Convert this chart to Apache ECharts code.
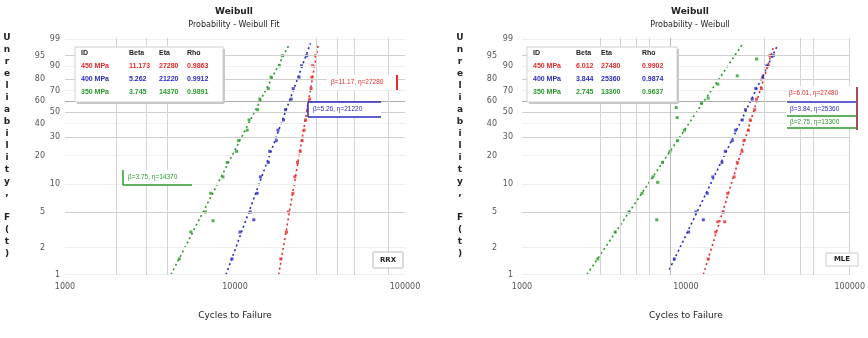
<!DOCTYPE html>
<html>
<head>
<meta charset="utf-8">
<script src="https://cdn.jsdelivr.net/npm/echarts@6/dist/echarts.min.js"></script>
<style>
  html, body { margin: 0; padding: 0; background: #fff; }
  #chart { width: 868px; height: 338px; }
</style>
</head>
<body>
<div id="chart"></div>
<script>
// --- data ---
const setNames = ['450 MPa', '400 MPa', '350 MPa']
const colors = ['#e62a2a', '#2a2ac2', '#2a9a2a']
const probTicks = [99, 95, 90, 80, 70, 60, 50, 40, 30, 20, 10, 5, 2, 1]
const outerTicks = [95, 80, 60, 40, 20, 5, 2]
const darkGrid = [95, 80, 50, 30, 5]
const leftVLines = [2000, 3000, 4000, 30000, 40000, 50000, 80000]
const rightVLines = [3000, 4000, 5000, 6000, 8000, 30000, 50000, 60000, 100000]

// fit lines: [cycles, F%] end points
const leftFitRed = [[18070, 1], [30970, 98.4]]
const leftFitBlue = [[8850, 1], [27800, 98.4]]
const leftFitGreen = [[4200, 1], [21000, 98.4]]
const rightFitRed = [[12780, 1], [34080, 97.4]]
const rightFitBlue = [[7925, 1.14], [36480, 98.2]]
const rightFitGreen = [[2489, 1], [22330, 98.4]]

// failure points: [cycles, F%]
const leftRedPts = [[18600, 1.5], [20100, 3], [20600, 5], [21900, 8], [22500, 12], [23300, 17], [24200, 22], [24800, 28], [25500, 35], [26000, 43], [26800, 52], [27500, 62], [28000, 72], [28300, 82], [28600, 90], [29800, 95]]
const leftBluePts = [[9600, 1.5], [10700, 3], [12300, 5], [12900, 4.1], [13500, 8], [14100, 12], [15700, 17], [16000, 22], [17500, 28], [17900, 35], [19300, 43], [19800, 52], [21400, 62], [22000, 72], [23800, 82], [24600, 90], [26400, 95]]
const leftGreenPts = [[4700, 1.5], [5500, 3], [6700, 5], [7430, 4.0], [7200, 8], [8500, 12], [9000, 17], [10200, 22], [10500, 28], [11800, 35], [12100, 43], [13600, 52], [14000, 62], [15700, 72], [16300, 82], [18300, 90], [19000, 95]]
const rightRedPts = [[13700, 1.5], [15200, 3], [16900, 5], [15670, 3.9], [17260, 3.9], [18000, 8], [19700, 12], [20600, 17], [22000, 22], [22600, 28], [24100, 35], [24700, 43], [26300, 52], [27000, 62], [28900, 72], [29700, 82], [31900, 90], [32600, 95]]
const rightBluePts = [[8500, 1.5], [10400, 3], [11500, 5], [12780, 4.1], [13500, 8], [14600, 12], [16600, 17], [17400, 22], [19200, 28], [20100, 35], [22100, 43], [23100, 52], [25400, 62], [26700, 72], [29500, 82], [31200, 90], [34100, 95]]
const rightGreenPts = [[2900, 1.5], [3700, 3], [4500, 5], [6640, 4.1], [5400, 8], [6730, 10.5], [6300, 12], [7200, 17], [8000, 22], [8900, 28], [9800, 35], [8850, 45], [8730, 54], [12430, 58], [13680, 63], [15670, 76], [20590, 83], [27040, 93.6]]

// fitted parameters shown in the legend
const leftBeta = ['11.173', '5.262', '3.745']
const leftEta = ['27280', '21220', '14370']
const leftRho = ['0.9863', '0.9912', '0.9891']
const rightBeta = ['6.012', '3.844', '2.745']
const rightEta = ['27480', '25360', '13300']
const rightRho = ['0.9902', '0.9874', '0.9637']

// Weibull probability scale
const wb = f => Math.log(-Math.log(1 - f / 100))
const toXY = arr => arr.map(([x, f]) => [x, wb(f)])

const font = 'DejaVu Sans'
const small = 'Liberation Sans'

function gridMarks(vLines, dOuter, dInner) {
  const h = probTicks.map(f => ({
    yAxis: wb(f),
    lineStyle: { color: f === 60 ? '#aaa' : darkGrid.includes(f) ? '#cfcfcf' : '#eeeeee', width: 1, type: 'solid' },
    label: {
      show: true, position: 'start', formatter: String(f),
      distance: outerTicks.includes(f) ? dOuter : dInner,
      color: '#555', fontSize: 8, fontFamily: font,
    },
  }))
  const v = vLines.map(x => ({
    xAxis: x,
    lineStyle: { color: x === 8000 ? '#bbb' : '#d4d4d4', width: 1, type: 'solid' },
    label: { show: false },
  }))
  return { silent: true, symbol: 'none', animation: false, data: h.concat(v) }
}

function panelSeries(p, fits, pts, vLines, dOuter, dInner) {
  const out = []
  fits.forEach((fit, i) => {
    const s = {
      type: 'line', xAxisIndex: p, yAxisIndex: p, data: toXY(fit),
      showSymbol: false, z: 3,
      lineStyle: { color: colors[i], width: 1.6, type: [2, 3] },
    }
    if (i === 0) s.markLine = gridMarks(vLines, dOuter, dInner)
    out.push(s)
  })
  pts.forEach((pt, i) => {
    out.push({
      type: 'scatter', xAxisIndex: p, yAxisIndex: p, data: toXY(pt),
      symbol: 'rect', symbolSize: 3, z: 4, itemStyle: { color: colors[i] },
    })
  })
  return out
}

function xAxis(p) {
  return {
    type: 'log', gridIndex: p, logBase: 10, min: 1000, max: 100000,
    axisLine: { show: false }, axisTick: { show: false }, splitLine: { show: false },
    axisLabel: { fontSize: 8, color: '#555', fontFamily: font, margin: 8, formatter: v => String(Math.round(v)) },
    name: 'Cycles to Failure', nameLocation: 'middle', nameGap: 36,
    nameTextStyle: { fontSize: 9, color: '#222', fontFamily: font },
  }
}

function yAxis(p) {
  return { type: 'value', gridIndex: p, min: wb(1) - 0.01, max: wb(99) + 0.03, show: false }
}

function txt(x, y, text, opt) {
  return {
    type: 'text', x, y, silent: true, z: 10,
    style: Object.assign({ text, fill: '#222', fontSize: 8, fontFamily: font, verticalAlign: 'middle' }, opt || {}),
  }
}
function ln(x1, y1, x2, y2, color, w) {
  return { type: 'line', silent: true, z: 10, shape: { x1, y1, x2, y2 }, style: { stroke: color, lineWidth: w || 1 } }
}
function box(x, y, width, height, stroke) {
  return { type: 'rect', silent: true, z: 9, shape: { x, y, width, height }, style: { fill: '#fff', stroke: stroke || null } }
}

function legendBox(x, y, w, cols, beta, eta, rho) {
  const g = [
    box(x, y, w, 55, '#d0d0d0'),
    ln(x + 2, y + 56, x + w + 1, y + 56, '#c8c8c8', 2),
    ln(x + w + 1, y + 2, x + w + 1, y + 56, '#c8c8c8', 2),
  ]
  const head = ['ID', 'Beta', 'Eta', 'Rho']
  head.forEach((h, c) => g.push(txt(cols[c], y + 6, h, { fontWeight: 'bold', fontSize: 7, fontFamily: small })))
  setNames.forEach((n, r) => {
    const row = [n, beta[r], eta[r], rho[r]]
    row.forEach((t, c) => g.push(txt(cols[c], y + 19 + r * 13, t, { fill: colors[r], fontSize: 7, fontFamily: small, fontWeight: 'bold' })))
  })
  return g
}

const yTitle = 'Unreliability, F(t)'.split('').join('\n')
const ann = (b, e) => 'β=' + b + ', η=' + e
const annStyle = c => ({ fill: c, fontSize: 6.5, fontFamily: small })

const graphic = [
  txt(234, 12, 'Weibull', { align: 'center', fontWeight: 'bold', fontSize: 9 }),
  txt(234, 25, 'Probability - Weibull Fit', { align: 'center' }),
  txt(690, 12, 'Weibull', { align: 'center', fontWeight: 'bold', fontSize: 9 }),
  txt(690, 25, 'Probability - Weibull', { align: 'center' }),
  txt(7, 32, yTitle, { align: 'center', verticalAlign: 'top', fontSize: 9, lineHeight: 12, fontWeight: 'bold' }),
  txt(460, 32, yTitle, { align: 'center', verticalAlign: 'top', fontSize: 9, lineHeight: 12, fontWeight: 'bold' }),
  ...legendBox(75, 47, 148, [81, 129, 159, 187], leftBeta, leftEta, leftRho),
  ...legendBox(527, 47, 150, [533, 576, 601, 642], rightBeta, rightEta, rightRho),
  // left panel callouts
  box(327, 75, 70, 15),
  txt(331, 82, ann('11.17', leftEta[0]), annStyle(colors[0])),
  ln(397, 75, 397, 90, colors[0], 2),
  box(308, 102, 73, 15),
  ln(308, 102, 381, 102, colors[1], 1.5), ln(308, 117, 381, 117, colors[1], 1.5), ln(308, 102, 308, 117, colors[1], 1.5),
  txt(313, 109.5, ann('5.26', leftEta[1]), annStyle(colors[1])),
  box(123, 170, 69, 15),
  ln(123, 170, 123, 185, colors[2], 1.5), ln(123, 185, 192, 185, colors[2], 1.5),
  txt(128, 177, ann('3.75', leftEta[2]), annStyle(colors[2])),
  // right panel callouts
  box(786, 86, 72, 43),
  txt(789, 93, ann('6.01', rightEta[0]), annStyle(colors[0])),
  ln(787, 102, 858, 102, colors[1], 1.5),
  txt(790, 109, ann('3.84', rightEta[1]), annStyle(colors[1])),
  ln(787, 116, 858, 116, colors[2], 1.5),
  txt(790, 122, ann('2.75', rightEta[2]), annStyle(colors[2])),
  ln(787, 128, 858, 128, colors[2], 1.5),
  ln(857, 87, 857, 130, '#a05050', 2),
  // method boxes
  box(373, 252, 30, 16, '#bbb'),
  txt(388, 260, 'RRX', { align: 'center', fontSize: 7, fontWeight: 'bold' }),
  box(826, 253, 32, 13, '#ccc'),
  txt(842, 259.5, 'MLE', { align: 'center', fontSize: 7, fontWeight: 'bold' }),
]

const chart = echarts.init(document.getElementById('chart'))
chart.setOption({
  animation: false,
  textStyle: { fontFamily: font },
  grid: [
    { left: 65, top: 38, width: 340, height: 237 },
    { left: 522, top: 38, width: 338, height: 237 },
  ],
  xAxis: [xAxis(0), xAxis(1)],
  yAxis: [yAxis(0), yAxis(1)],
  series: [
    ...panelSeries(0, [leftFitRed, leftFitBlue, leftFitGreen], [leftRedPts, leftBluePts, leftGreenPts], leftVLines, 20, 5),
    ...panelSeries(1, [rightFitRed, rightFitBlue, rightFitGreen], [rightRedPts, rightBluePts, rightGreenPts], rightVLines, 25, 9),
  ],
  graphic,
})
</script>
</body>
</html>
